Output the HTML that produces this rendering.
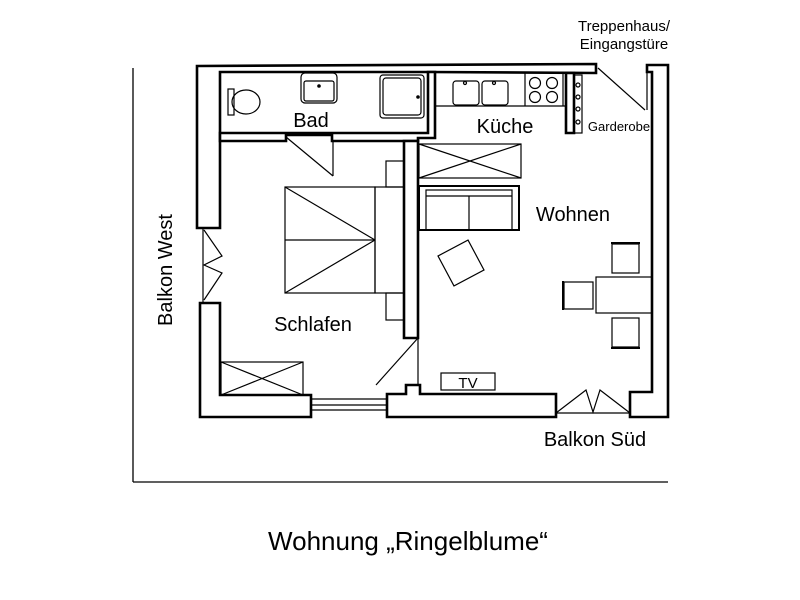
<!DOCTYPE html>
<html><head><meta charset="utf-8"><style>
html,body{margin:0;padding:0;background:#fff;width:800px;height:600px;overflow:hidden}
svg{display:block}
text{font-family:"Liberation Sans",Arial,sans-serif;fill:#000}
</style></head><body>
<svg width="800" height="600" viewBox="0 0 800 600" xmlns="http://www.w3.org/2000/svg">
<g fill="none" stroke="#000" stroke-width="1.3">
<line x1="133" y1="68" x2="133" y2="482"/>
<line x1="133" y1="482" x2="668" y2="482"/>
</g>
<g fill="#fff" stroke="#000" stroke-width="2.6" stroke-linejoin="miter">
<polygon points="197,66 596,64 596,73 428,72 220,72 220,228 197,228"/>
<polygon points="220,133 428,133 428,72 435,72 435,138 418,138 418,141 332,141 332,135 286,135 286,141 220,141"/>
<polygon points="647,65 668,65 668,417 630,417 630,392 652,392 652,72 647,72"/>
<polygon points="200,303 220,303 220,395 311,395 311,417 200,417"/>
<polygon points="387,394 406,394 406,385 420,385 420,394 556,394 556,417 387,417"/>
<polygon points="404,141 418,141 418,338 404,338"/>
<polygon points="566,73 574,73 574,133 566,133"/>
</g>
<g fill="none" stroke="#000" stroke-width="1.2">
<rect x="574" y="75" width="8" height="58"/>
<circle cx="578" cy="85" r="2"/><circle cx="578" cy="97" r="2"/><circle cx="578" cy="109" r="2"/><circle cx="578" cy="122" r="2"/>
<line x1="598" y1="68" x2="645" y2="110"/>
<line x1="647" y1="72" x2="647" y2="110"/>
<rect x="228" y="89" width="6" height="26"/>
<ellipse cx="246" cy="102" rx="14" ry="12"/>
<rect x="301" y="73" width="36" height="30" rx="4"/>
<rect x="304" y="81" width="30" height="20" rx="2"/>
<rect x="380" y="75" width="44" height="43" rx="3"/>
<rect x="383" y="78" width="38" height="37" rx="3"/>
<line x1="286" y1="137" x2="333" y2="176"/>
<line x1="333" y1="141" x2="333" y2="176"/>
<line x1="435" y1="106" x2="566" y2="106"/>
<rect x="453" y="81" width="26" height="24" rx="3"/>
<rect x="482" y="81" width="26" height="24" rx="3"/>
<line x1="525" y1="73" x2="525" y2="106"/>
<line x1="563" y1="73" x2="563" y2="106"/>
<circle cx="535" cy="83" r="5.5"/><circle cx="552" cy="83" r="5.5"/>
<circle cx="535" cy="97" r="5.5"/><circle cx="552" cy="97" r="5.5"/>
<circle cx="465" cy="83" r="1.5"/><circle cx="494" cy="83" r="1.5"/>
<rect x="419" y="144" width="102" height="34"/>
<line x1="419" y1="144" x2="521" y2="178"/><line x1="419" y1="178" x2="521" y2="144"/>
<rect x="419" y="186" width="100" height="44" stroke-width="2"/>
<rect x="426" y="190" width="86" height="40"/>
<line x1="426" y1="196" x2="512" y2="196"/>
<line x1="469" y1="196" x2="469" y2="230"/>
<rect x="285" y="187" width="90" height="106"/>
<line x1="285" y1="240" x2="375" y2="240"/>
<line x1="285" y1="187" x2="375" y2="240"/><line x1="285" y1="293" x2="375" y2="240"/>
<rect x="375" y="187" width="29" height="106"/>
<rect x="386" y="161" width="18" height="26"/>
<rect x="386" y="293" width="18" height="27"/>
<rect x="221" y="362" width="82" height="33"/>
<line x1="221" y1="362" x2="303" y2="395"/><line x1="221" y1="395" x2="303" y2="362"/>
<line x1="203" y1="228" x2="203" y2="302"/>
<polyline points="204,230 222,256 204,265 222,273 204,300"/>
<line x1="311" y1="399" x2="387" y2="399"/>
<line x1="311" y1="405" x2="387" y2="405"/>
<line x1="311" y1="410" x2="387" y2="410"/>
<line x1="418" y1="338" x2="376" y2="385"/>
<line x1="418" y1="338" x2="418" y2="385"/>
<line x1="556" y1="413" x2="630" y2="413"/>
<polyline points="556,413 586,390 593,412 600,390 630,413"/>
<rect x="444" y="246" width="34" height="34" transform="rotate(-28 461 263)"/>
<rect x="596" y="277" width="56" height="36"/>
<rect x="612" y="244" width="27" height="29"/>
<line x1="611" y1="243" x2="640" y2="243" stroke-width="2"/>
<rect x="612" y="318" width="27" height="29"/>
<line x1="611" y1="348" x2="640" y2="348" stroke-width="2"/>
<rect x="564" y="282" width="29" height="27"/>
<line x1="563" y1="281" x2="563" y2="310" stroke-width="2"/>
<rect x="441" y="373" width="54" height="17"/>
</g>
<g fill="#000">
<circle cx="319" cy="86" r="1.8"/>
<circle cx="418" cy="97" r="1.8"/>
</g>
<text x="311" y="127" font-size="20" text-anchor="middle">Bad</text>
<text x="505" y="133" font-size="20" text-anchor="middle">Küche</text>
<text x="619" y="131" font-size="13" text-anchor="middle">Garderobe</text>
<text x="573" y="221" font-size="20" text-anchor="middle">Wohnen</text>
<text x="313" y="331" font-size="20" text-anchor="middle">Schlafen</text>
<text x="468" y="388" font-size="15" text-anchor="middle">TV</text>
<text x="595" y="446" font-size="20" text-anchor="middle">Balkon Süd</text>
<text x="624" y="31" font-size="15" text-anchor="middle">Treppenhaus/</text>
<text x="624" y="49" font-size="15" text-anchor="middle">Eingangstüre</text>
<text transform="translate(172 270) rotate(-90)" font-size="20" text-anchor="middle">Balkon West</text>
<text x="408" y="550" font-size="26" text-anchor="middle">Wohnung „Ringelblume“</text>
</svg>
</body></html>
